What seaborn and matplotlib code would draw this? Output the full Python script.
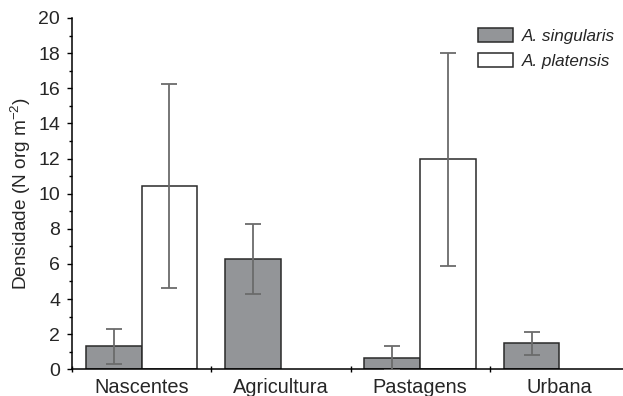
import numpy as np
import pandas as pd
import matplotlib
matplotlib.use("Agg")
import matplotlib.pyplot as plt
import seaborn as sns
from matplotlib.patches import Patch

categories = ["Nascentes", "Agricultura", "Pastagens", "Urbana"]
species = ["A. singularis", "A. platensis"]
singularis_mean = [1.3, 6.3, 0.63, 1.48]
singularis_err = [1.0, 2.0, 0.67, 0.67]
platensis_mean = [10.45, np.nan, 11.95, np.nan]
platensis_err = [5.8, np.nan, 6.07, np.nan]
yticks = [0, 2, 4, 6, 8, 10, 12, 14, 16, 18, 20]

df = pd.DataFrame({
    "cat": categories * 2,
    "sp": [species[0]] * 4 + [species[1]] * 4,
    "val": singularis_mean + platensis_mean,
    "err": singularis_err + platensis_err,
})

sns.set_style("white")
plt.rcParams["font.family"] = ["Liberation Sans", "DejaVu Sans"]
plt.rcParams["mathtext.fontset"] = "custom"
plt.rcParams["mathtext.rm"] = "Liberation Sans"
plt.rcParams["mathtext.it"] = "Liberation Sans:italic"

fig = plt.figure(figsize=(6.23, 3.96), dpi=100)
ax = fig.add_axes([72 / 623, 26.7 / 396, 557 / 623, 351.3 / 396])

grey = "#939598"
edge = "#2a2a2a"
sns.barplot(data=df, x="cat", y="val", hue="sp", order=categories,
            hue_order=species, palette=[grey, "white"], errorbar=None,
            width=0.8, dodge=True, ax=ax, legend=False, saturation=1)

for p in ax.patches:
    p.set_edgecolor(edge)
    p.set_linewidth(1.1)

# error bars placed on the bars drawn by seaborn
for cont, means, errs in zip(ax.containers, [singularis_mean, platensis_mean],
                             [singularis_err, platensis_err]):
    for bar in cont:
        xc = bar.get_x() + bar.get_width() / 2
        i = int(round(xc))
        m, e = means[i], errs[i]
        if np.isnan(m):
            continue
        ax.errorbar(xc, m, yerr=e, fmt="none", ecolor="#6b6b6b",
                    elinewidth=1.3, capsize=5.5, capthick=1.3, zorder=5)

ax.set_ylim(0, 20)
ax.set_xlim(-0.5, 3.5)
ax.set_yticks(yticks)
ax.set_yticks(np.arange(1, 20, 2), minor=True)
ax.tick_params(axis="y", which="major", direction="out", length=3.5, width=1,
               labelsize=14, pad=5, left=True, color="black")
ax.tick_params(axis="y", which="minor", direction="out", length=2, width=1,
               left=True, color="black")

ax.set_xticks([-0.5, 0.5, 1.5, 2.5, 3.5])
ax.set_xticklabels([])
ax.set_xticks([0, 1, 2, 3], minor=True)
ax.set_xticklabels(categories, minor=True)
ax.tick_params(axis="x", which="major", direction="inout", length=5, width=1,
               bottom=True, color="black")
ax.tick_params(axis="x", which="minor", length=0, labelsize=14.4, pad=6)

for s in ["top", "right"]:
    ax.spines[s].set_visible(False)
for s in ["left", "bottom"]:
    ax.spines[s].set_color("black")
    ax.spines[s].set_linewidth(1.1)

ax.set_xlabel("")
ax.set_ylabel(r"Densidade (N org m$^{\mathregular{-2}}$)", fontsize=13.7, labelpad=4)

handles = [Patch(facecolor=grey, edgecolor=edge, linewidth=1.1),
           Patch(facecolor="white", edgecolor=edge, linewidth=1.1)]
leg = fig.legend(handles, species, loc="upper left",
                 bbox_to_anchor=(463 / 623, 1 - 13 / 396), frameon=False,
                 handlelength=2.05, handleheight=0.85, handletextpad=0.5,
                 labelspacing=0.55, fontsize=12.3)
for t in leg.get_texts():
    t.set_fontstyle("italic")

fig.savefig("out.png", dpi=100)
